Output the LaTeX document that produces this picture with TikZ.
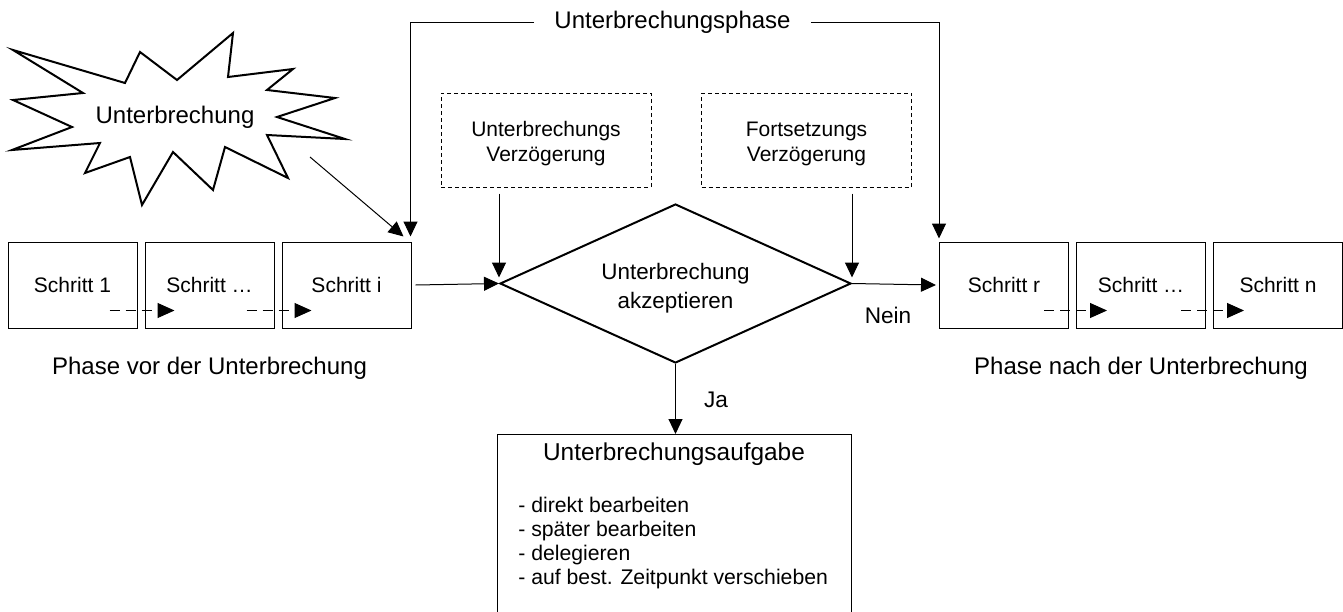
\documentclass[tikz,border=0pt]{standalone}
\usepackage{fontspec}
\setmainfont{Liberation Sans}
\usetikzlibrary{arrows.meta, positioning, shapes.geometric}

\tikzset{
  schritt/.style={draw, line width=0.5pt, minimum width=64.5pt, minimum height=43pt, inner sep=0pt, font=\fontsize{10.5}{12}\selectfont},
  verzoegerung/.style={draw, dash pattern=on 2pt off 1.5pt, line width=0.5pt, minimum width=105pt, minimum height=47pt, align=center, inner sep=0pt, font=\fontsize{10.5}{12.5}\selectfont},
  entscheidung/.style={diamond, draw, line width=1pt, aspect=2.2, inner sep=0pt, minimum width=175.5pt, minimum height=79.5pt, align=center, font=\fontsize{11.2}{14.5}\selectfont},
  pfeil/.style={line width=0.5pt, -{Triangle[length=7.5pt,width=7pt]}},
  strichpfeil/.style={line width=0.5pt, dash pattern=on 5pt off 3pt, -{Triangle[length=8.5pt,width=7.5pt]}},
  beschriftung/.style={inner sep=0pt, font=\fontsize{12}{14}\selectfont},
  punkt/.style={inner sep=0pt, font=\fontsize{10.6}{12}\selectfont}
}

\begin{document}
\begin{tikzpicture}[x=0.5pt, y=-0.5pt]
    \useasboundingbox (0,0) rectangle (1343,611);

    % Unterbrechung (Explosion)
    \draw[line width=1pt] (13,50) -- (125,83) -- (140,52) -- (177,80) -- (233,33) -- (228,77)
        -- (293,69) -- (267,90) -- (335,98) -- (277,117) -- (345,139) -- (267,135)
        -- (288,178) -- (225,147) -- (213,190) -- (173,152) -- (142,205) -- (130,157)
        -- (85,173) -- (100,143) -- (12,150) -- (72,127) -- (13,100) -- (83,93) -- cycle;
    \node[beschriftung] (unterbrechung) at (175,117) {Unterbrechung};
    \coordinate (blitz) at (310,157);

    % Phase vor der Unterbrechung
    \node[schritt] (s1) at (72.5,285) {Schritt 1};
    \node[schritt, right=3.5pt of s1] (s2) {Schritt …};
    \node[schritt, right=3.5pt of s2] (s3) {Schritt i};
    \draw[strichpfeil] ([xshift=-14pt,yshift=9pt]s1.south east) -- ([xshift=15pt,yshift=9pt]s2.south west);
    \draw[strichpfeil] ([xshift=-14pt,yshift=9pt]s2.south east) -- ([xshift=15pt,yshift=9pt]s3.south west);
    \node[beschriftung, below=14pt of s2] (vor) {Phase vor der Unterbrechung};

    % Phase nach der Unterbrechung
    \node[schritt] (r1) at (1004,285) {Schritt r};
    \node[schritt, right=3.5pt of r1] (r2) {Schritt …};
    \node[schritt, right=3.5pt of r2] (r3) {Schritt n};
    \draw[strichpfeil] ([xshift=-12.5pt,yshift=9pt]r1.south east) -- ([xshift=15.5pt,yshift=9pt]r2.south west);
    \draw[strichpfeil] ([xshift=-12.5pt,yshift=9pt]r2.south east) -- ([xshift=15.5pt,yshift=9pt]r3.south west);
    \node[beschriftung, below=14pt of r2] (nach) {Phase nach der Unterbrechung};

    % Entscheidung und Verzoegerungen
    \node[entscheidung] (raute) at (675.5,283.5) {\rule{0pt}{13pt}Unterbrechung\\akzeptieren};
    \node[verzoegerung] (verz1) at (546,140) {\rule{0pt}{11.5pt}Unterbrechungs\\Verzögerung};
    \node[verzoegerung] (verz2) at (806.5,140) {\rule{0pt}{11.5pt}Fortsetzungs\\Verzögerung};

    % Unterbrechungsphase (Klammer oben)
    \node[beschriftung, inner xsep=10pt] (phase) at (672.5,22) {Unterbrechungsphase};
    \draw[pfeil] (phase.west) -| ([xshift=-0.5pt,yshift=2.5pt]s3.north east);
    \draw[pfeil] (phase.east) -| ([yshift=1.5pt]r1.north west);
    \draw[pfeil] (blitz) -- ([xshift=-4pt,yshift=2.5pt]s3.north east);

    % Verbindungen
    \draw[pfeil] ([xshift=2pt]s3.east) -- (raute.west);
    \draw[pfeil, shorten <=3pt] (verz1.south -| raute.west) -- ([yshift=3pt]raute.west);
    \draw[pfeil, shorten <=3pt] (verz2.south -| raute.east) -- ([yshift=3pt]raute.east);
    \draw[pfeil] (raute.east) -- ([xshift=-1.5pt]r1.west);
    \node[beschriftung, font=\fontsize{11.3}{13}\selectfont] (nein) at (888,315) {Nein};

    % Unterbrechungsaufgabe
    \node[draw, line width=0.5pt, minimum width=177pt, minimum height=96pt, anchor=north] (aufgabe) at (674,434) {};
    \node[beschriftung, font=\fontsize{12.2}{14}\selectfont, below=4pt of aufgabe.north] (titel) {Unterbrechungsaufgabe};
    \foreach \punkttext [count=\i] in {direkt bearbeiten, später bearbeiten, delegieren, auf best. Zeitpunkt verschieben}
        \node[punkt, anchor=base west] (p\i) at (518,488+24*\i) {- \punkttext};
    \draw[pfeil] (raute.south) -- (raute.south |- aufgabe.north);
    \node[beschriftung, font=\fontsize{11.3}{13}\selectfont] (ja) at (716,400) {Ja};
\end{tikzpicture}
\end{document}
